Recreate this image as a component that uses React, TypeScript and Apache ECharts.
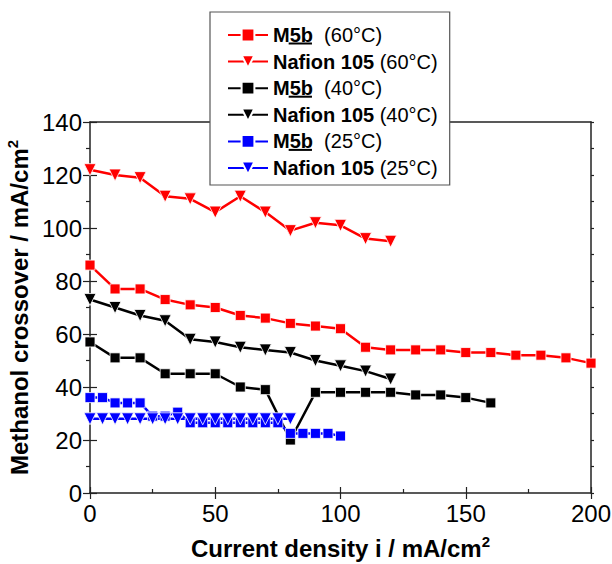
import React, { useEffect, useRef } from "react";
import * as echarts from "echarts";

const FONT = "Liberation Sans, Arial, sans-serif";

const m5b60X = [0, 10, 20, 30, 40, 50, 60, 70, 80, 90, 100, 110, 120, 130, 140, 150, 160, 170, 180, 190, 200];
const m5b60Y = [86, 77, 77, 73, 71, 70, 67, 66, 64, 63, 62, 55, 54, 54, 54, 53, 53, 52, 52, 51, 49];

const naf60X = [0, 10, 20, 30, 40, 50, 60, 70, 80, 90, 100, 110, 120];
const naf60Y = [122, 120, 119, 112, 111, 106, 112, 106, 99, 102, 101, 96, 95];

const m5b40X = [0, 10, 20, 30, 40, 50, 60, 70, 80, 90, 100, 110, 120, 130, 140, 150, 160];
const m5b40Y = [57, 51, 51, 45, 45, 45, 40, 39, 20, 38, 38, 38, 38, 37, 37, 36, 34];

const naf40X = [0, 10, 20, 30, 40, 50, 60, 70, 80, 90, 100, 110, 120];
const naf40Y = [73, 70, 67, 65, 58, 57, 55, 54, 53, 50, 48, 46, 43];

const m5b25X = [0, 5, 10, 15, 20, 25, 30, 35, 40, 45, 50, 55, 60, 65, 70, 75, 80, 85, 90, 95, 100];
const m5b25Y = [36, 36, 34, 34, 34, 29, 29, 30.5, 26.5, 26.5, 26.5, 26.5, 26.5, 26.5, 26.5, 26.5, 22.5, 22.5, 22.5, 22.5, 21.5];

const naf25X = [0, 5, 10, 15, 20, 25, 30, 35, 40, 45, 50, 55, 60, 65, 70, 75, 80];
const naf25Y = [28, 28, 28, 28, 28, 28, 28, 28, 28, 28, 28, 28, 28, 28, 28, 28, 28];

const xTicks = { min: 0, max: 200, interval: 50 };
const yTicks = { min: 0, max: 140, interval: 20 };

type S = { name: string; label: string; temp: string; x: number[]; y: number[]; color: string; symbol: string };
const seriesDefs: S[] = [
  { name: "M5b (60°C)", label: "M5b", temp: "(60°C)", x: m5b60X, y: m5b60Y, color: "#ff0000", symbol: "rect" },
  { name: "Nafion 105 (60°C)", label: "Nafion 105", temp: "(60°C)", x: naf60X, y: naf60Y, color: "#ff0000", symbol: "triangle" },
  { name: "M5b (40°C)", label: "M5b", temp: "(40°C)", x: m5b40X, y: m5b40Y, color: "#000000", symbol: "rect" },
  { name: "Nafion 105 (40°C)", label: "Nafion 105", temp: "(40°C)", x: naf40X, y: naf40Y, color: "#000000", symbol: "triangle" },
  { name: "M5b (25°C)", label: "M5b", temp: "(25°C)", x: m5b25X, y: m5b25Y, color: "#0000ff", symbol: "rect" },
  { name: "Nafion 105 (25°C)", label: "Nafion 105", temp: "(25°C)", x: naf25X, y: naf25Y, color: "#0000ff", symbol: "triangle" },
];

const AX = "#222";

export default function App() {
  const ref = useRef<HTMLDivElement>(null);
  useEffect(() => {
    if (!ref.current) return;
    const chart = echarts.init(ref.current, null, { renderer: "svg" });

    const legendLeft = 210;
    const legendTop = 12;
    const padTop = 12;
    const padLeft = 17;
    const rowH = 26.6;
    const lineH = 22;
    const textX = legendLeft + padLeft + 40 + 5;
    const mW = 0.833 * 20;
    const underlines = [0, 2, 4].map((i) => {
      const cy = legendTop + padTop + i * rowH + lineH / 2 + 8.5;
      return {
        type: "line",
        shape: { x1: textX + mW, y1: cy, x2: textX + mW + 23.3, y2: cy },
        style: { stroke: "#000", lineWidth: 2 },
        z: 100,
      };
    });

    const bigLabel = { fontSize: 24, color: "#000", fontFamily: FONT };
    const nameRich = {
      t: { fontSize: 24, fontWeight: "bold", fontFamily: FONT, color: "#000", lineHeight: 26, verticalAlign: "bottom" },
      s: { fontSize: 15, fontWeight: "bold", fontFamily: FONT, color: "#000", lineHeight: 8, verticalAlign: "top" },
    };

    chart.setOption({
      animation: false,
      backgroundColor: "#fff",
      grid: { left: 90, right: 21, top: 122, bottom: 71, containLabel: false, outerBoundsMode: "none" },
      legend: {
        orient: "vertical",
        left: legendLeft,
        top: legendTop,
        padding: [padTop, 12, 6, padLeft],
        itemWidth: 40,
        itemHeight: 16,
        itemGap: rowH - lineH,
        backgroundColor: "#fff",
        borderColor: "#555",
        borderWidth: 1.2,
        z: 50,
        data: seriesDefs.map((s) => s.name),
        formatter: (name: string) => {
          const s = seriesDefs.find((d) => d.name === name)!;
          if (s.label === "M5b") return `{b|M}{b|5b}{n|  ${s.temp}}`;
          return `{b|${s.label}}{n| ${s.temp}}`;
        },
        textStyle: {
          fontFamily: FONT,
          fontSize: 20,
          lineHeight: lineH,
          color: "#000",
          rich: {
            b: { fontFamily: FONT, fontSize: 20, fontWeight: "bold", color: "#000", lineHeight: lineH },
            n: { fontFamily: FONT, fontSize: 20, color: "#000", lineHeight: lineH },
          },
        },
      },
      xAxis: [
        {
          type: "value",
          position: "bottom",
          ...xTicks,
          axisLine: { show: true, onZero: false, lineStyle: { color: AX, width: 1.5 } },
          axisTick: { show: true, inside: false, length: 6, lineStyle: { color: AX, width: 1.2 } },
          axisLabel: { ...bigLabel, margin: 8 },
          splitLine: { show: false },
          name: "{t|Current density i / mA/cm}{s|2}",
          nameLocation: "middle",
          nameGap: 41,
          nameTextStyle: { rich: nameRich },
        },
        {
          type: "value",
          position: "bottom",
          ...xTicks,
          axisLine: { show: false, onZero: false },
          axisTick: { show: true, inside: true, length: 6, lineStyle: { color: AX, width: 1.2 } },
          minorTick: { show: true, splitNumber: 2, length: 4, lineStyle: { color: AX, width: 1.2 } },
          axisLabel: { show: false },
          splitLine: { show: false },
        },
        {
          type: "value",
          position: "top",
          ...xTicks,
          axisLine: { show: true, onZero: false, lineStyle: { color: AX, width: 1.5 } },
          axisTick: { show: false },
          axisLabel: { show: false },
          splitLine: { show: false },
        },
      ],
      yAxis: [
        {
          type: "value",
          position: "left",
          ...yTicks,
          axisLine: { show: true, onZero: false, lineStyle: { color: AX, width: 1.5 } },
          axisTick: { show: true, inside: false, length: 7, lineStyle: { color: AX, width: 1.2 } },
          minorTick: { show: true, splitNumber: 2, length: 4, lineStyle: { color: AX, width: 1.2 } },
          axisLabel: { ...bigLabel, margin: 8 },
          splitLine: { show: false },
          name: "{t|Methanol crossover / mA/cm}{s|2}",
          nameLocation: "middle",
          nameGap: 53,
          nameTextStyle: { rich: nameRich },
        },
        {
          type: "value",
          position: "left",
          ...yTicks,
          axisLine: { show: false, onZero: false },
          axisTick: { show: true, inside: true, length: 7, lineStyle: { color: AX, width: 1.2 } },
          axisLabel: { show: false },
          splitLine: { show: false },
        },
        {
          type: "value",
          position: "right",
          min: 0,
          max: 140,
          interval: 10,
          axisLine: { show: true, onZero: false, lineStyle: { color: AX, width: 1.5 } },
          axisTick: { show: true, inside: false, length: 3, lineStyle: { color: AX, width: 1.2 } },
          axisLabel: { show: false },
          splitLine: { show: false },
        },
      ],
      graphic: underlines,
      series: seriesDefs.map((s) => ({
        name: s.name,
        type: "line",
        xAxisIndex: 0,
        yAxisIndex: 0,
        data: s.x.map((x, i) => [x, s.y[i]]),
        symbol: s.symbol,
        symbolSize: s.symbol === "rect" ? 10 : 12,
        symbolRotate: s.symbol === "triangle" ? 180 : 0,
        showAllSymbol: true,
        lineStyle: { color: s.color, width: 2.5 },
        itemStyle: { color: s.color, borderColor: "#fff", borderWidth: 0.8 },
        clip: false,
      })),
    });
    return () => chart.dispose();
  }, []);
  return (
    <div
      ref={ref}
      style={{ position: "absolute", left: 0, top: 0, width: 612, height: 564 }}
    />
  );
}
